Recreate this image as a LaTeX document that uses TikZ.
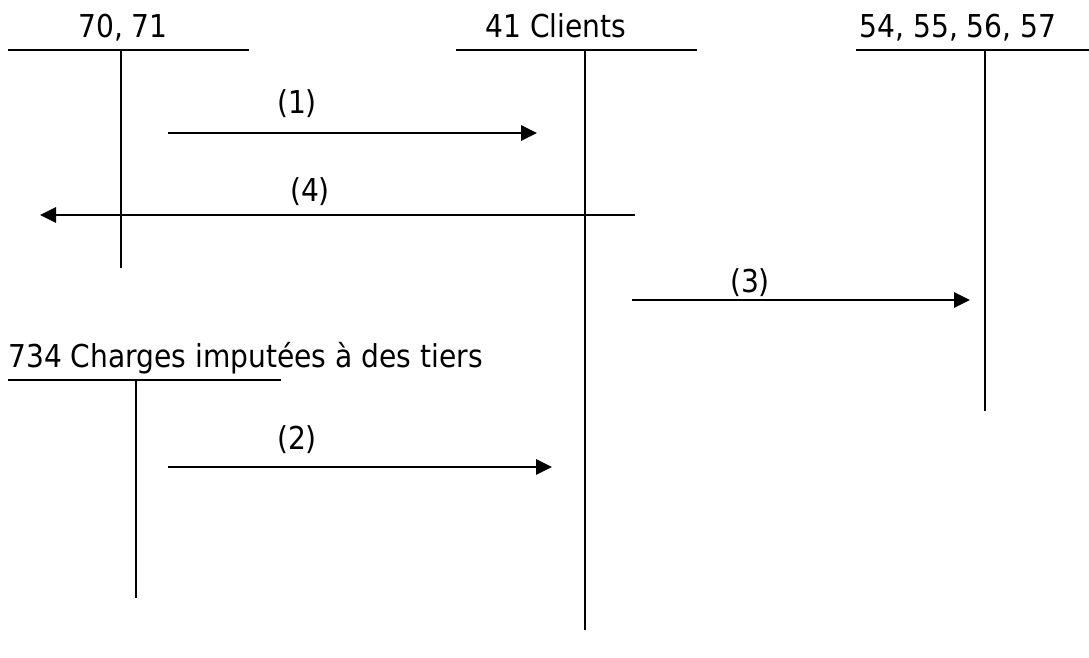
\documentclass[tikz,border=0pt]{standalone}
\usepackage{graphicx}
\usepackage{fontspec}
\setmainfont{DejaVu Sans}
\usetikzlibrary{arrows.meta}

\newcommand{\haut}[1]{\scalebox{1}[1.12]{#1}}

\tikzset{
    compte/.style={line width=1.6pt},
    flux/.style={line width=1.6pt, -{Triangle[length=0.4cm, width=0.38cm]}},
    titre/.style={font=\fontsize{20}{24}\selectfont, inner sep=0pt, anchor=base},
    numero/.style={font=\fontsize{20}{24}\selectfont, inner sep=0pt}
}

\begin{document}
\begin{tikzpicture}[x=0.025cm, y=-0.025cm]
    \useasboundingbox (0, 0) rectangle (1089, 657);

    % comptes en T
    \node[titre] (t70) at (123, 38) {\haut{70, 71}};
    \node[titre] (t41) at (556, 38) {\haut{41 Clients}};
    \node[titre] (t54) at (958, 38) {\haut{54, 55, 56, 57}};
    \node[titre, anchor=base west] (t734) at (8, 367) {\haut{734 Charges imputées à des tiers}};

    \begin{scope}[compte]
        \draw (8, 50) -- (249, 50);
        \draw (121, 50) -- (121, 268);
        \draw (456, 50) -- (697, 50);
        \draw (585, 50) -- (585, 630);
        \draw (856, 50) -- (1089, 50);
        \draw (985, 50) -- (985, 411);
        \draw (8, 380) -- (281, 380);
        \draw (136, 380) -- (136, 598);
    \end{scope}

    % mouvements
    \coordinate (d1) at (168, 133);
    \coordinate (a1) at (537, 133);
    \coordinate (d4) at (635, 215);
    \coordinate (a4) at (40, 215);
    \coordinate (d3) at (632, 300);
    \coordinate (a3) at (970, 300);
    \coordinate (d2) at (168, 467);
    \coordinate (a2) at (552, 467);

    \draw[flux] (d1) -- (a1);
    \draw[flux] (d4) -- (a4);
    \draw[flux] (d3) -- (a3);
    \draw[flux] (d2) -- (a2);

    \node[numero] (n1) at (297, 104) {\haut{(1)}};
    \node[numero] (n4) at (310, 192) {\haut{(4)}};
    \node[numero] (n3) at (750, 283) {\haut{(3)}};
    \node[numero] (n2) at (297, 440) {\haut{(2)}};
\end{tikzpicture}
\end{document}
